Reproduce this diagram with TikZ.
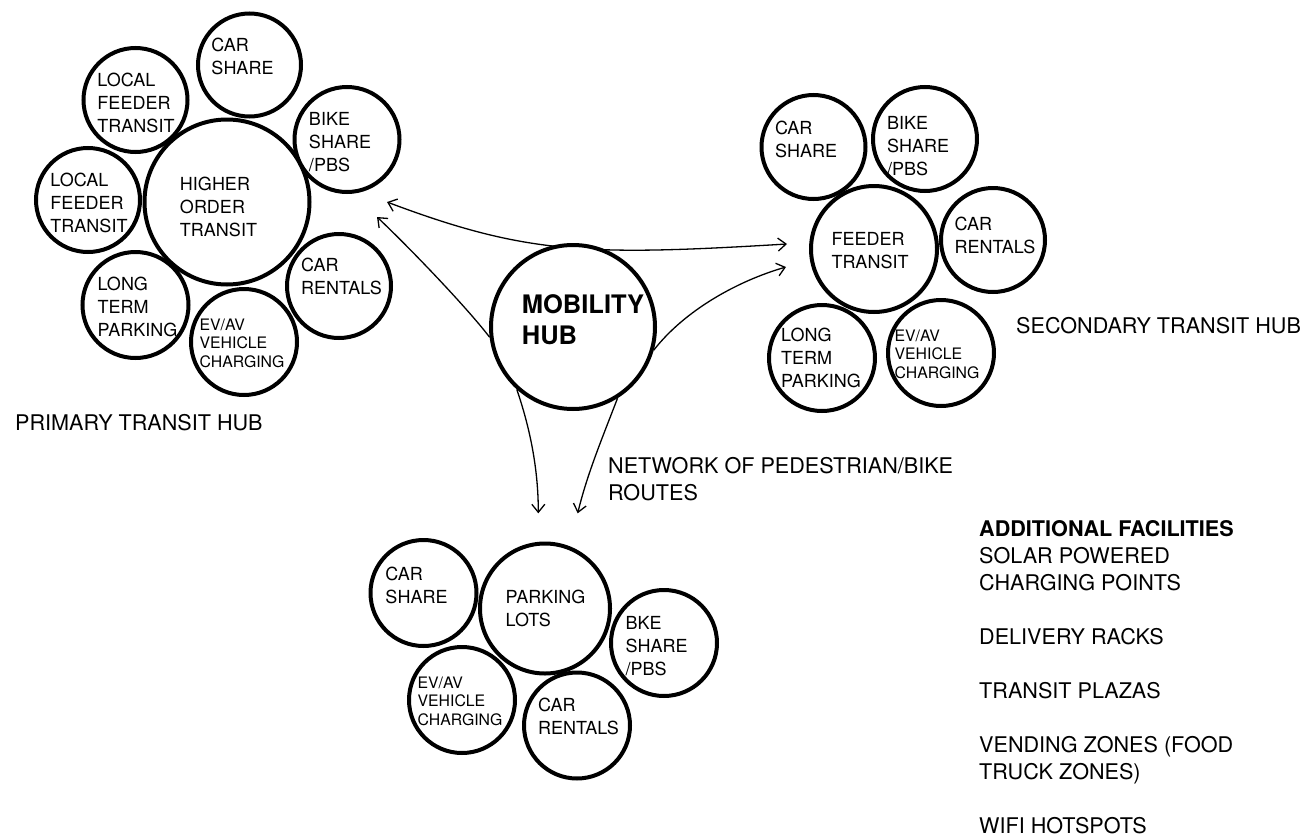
\documentclass[tikz,border=0pt]{standalone}
\usepackage{fontspec}
\setmainfont{TeX Gyre Heros}
\usetikzlibrary{arrows.meta}
\newcommand{\ringfont}{\fontsize{18}{23}\selectfont}
\newcommand{\evfont}{\fontsize{15.8}{18.5}\selectfont}
\newcommand{\hubfont}{\fontsize{25.5}{31}\selectfont\bfseries}
\newcommand{\lblfont}{\fontsize{21.6}{27}\selectfont}
\begin{document}
\begin{tikzpicture}[x=1pt, y=-1pt,
  ring/.style={circle, draw, line width=4pt, fill=white, inner sep=0pt},
  ringtxt/.style={align=left, inner sep=0pt},
  lbl/.style={align=left, inner sep=0pt, font=\lblfont},
  conn/.style={line width=1.3pt},
  >={Straight Barb[length=8pt, width=13pt]}]
\useasboundingbox (0,0) rectangle (1310,838);
\coordinate (pA) at (387,202);
\coordinate (sA) at (787,244);
\draw[conn, <->] (pA) .. controls (526.5,254.5) and (587.4,256) .. (sA);
% primary transit hub
\foreach \n/\x/\y/\sz/\dx/\dy/\fnt/\txt in {
  ho/227/202/165/-8.5/5/\ringfont/{HIGHER\\ORDER\\TRANSIT},
  pcar/249.5/65/103/-7/-8.5/\ringfont/{CAR\\SHARE},
  plf1/135.5/100/104/0.5/3/\ringfont/{LOCAL\\FEEDER\\TRANSIT},
  plf2/88/200/104/1/3/\ringfont/{LOCAL\\FEEDER\\TRANSIT},
  pbike/347/139.5/105/-7/3/\ringfont/{BIKE\\SHARE\\/PBS},
  prent/339/286/104/2.5/-9.5/\ringfont/{CAR\\RENTALS},
  plong/135.5/305/106/2/2/\ringfont/{LONG\\TERM\\PARKING},
  pev/244/342/106/-2/1/\evfont/{EV/AV\\VEHICLE\\CHARGING}}
{\node[ring, minimum size=\sz] (\n) at (\x,\y) {};
 \node[ringtxt, font=\fnt] (\n-t) at (\x+\dx,\y+\dy) {\txt};}
% secondary transit hub
\foreach \n/\x/\y/\sz/\dx/\dy/\fnt/\txt in {
  ft/874/249/126/-4/2/\ringfont/{FEEDER\\TRANSIT},
  scar/813.5/147/104/-7.5/-8/\ringfont/{CAR\\SHARE},
  sbike/925/139/104/-7/7/\ringfont/{BIKE\\SHARE\\/PBS},
  srent/993/240/104/2/-5/\ringfont/{CAR\\RENTALS},
  slong/822/358/106/-1/0/\ringfont/{LONG\\TERM\\PARKING},
  sev/941/353/106/-4/1/\evfont/{EV/AV\\VEHICLE\\CHARGING}}
{\node[ring, minimum size=\sz] (\n) at (\x,\y) {};
 \node[ringtxt, font=\fnt] (\n-t) at (\x+\dx,\y+\dy) {\txt};}
% parking lots
\foreach \n/\x/\y/\sz/\dx/\dy/\fnt/\txt in {
  pl/545/608.5/130/0.5/0/\ringfont/{PARKING\\LOTS},
  bcar/423.5/593/106/-7/-8/\ringfont/{CAR\\SHARE},
  bbike/664/643/106/-7.5/3/\ringfont/{BKE\\SHARE\\/PBS},
  bev/462/700/106/-2/1/\evfont/{EV/AV\\VEHICLE\\CHARGING},
  brent/577/725.5/106/1.5/-9/\ringfont/{CAR\\RENTALS}}
{\node[ring, minimum size=\sz] (\n) at (\x,\y) {};
 \node[ringtxt, font=\fnt] (\n-t) at (\x+\dx,\y+\dy) {\txt};}
\node[ring, minimum size=164] (mob) at (573,327) {};
\node[ringtxt, font=\hubfont] (mob-t) at (583,319.5) {MOBILITY\\HUB};
\coordinate (pB) at (377,217);
\coordinate (sB) at (786,267);
\coordinate (lC) at (538.3,513.3);
\coordinate (lD) at (577.7,513.3);
\draw[conn, ->] (mob.187) .. controls (465.3,305.5) and (406.1,244.4) .. (pB);
\draw[conn, ->] (mob.344) .. controls (685,310) and (737.9,280.9) .. (sB);
\draw[conn, ->] (mob.228) .. controls (529.9,427.8) and (538.3,468.3) .. (lC);
\draw[conn, ->] (mob.302) .. controls (602.9,436.4) and (587,474.4) .. (lD);
\node[lbl, anchor=base west] (primlbl) at (15,430) {PRIMARY TRANSIT HUB};
\node[lbl, anchor=base west] (seclbl) at (1016,333) {SECONDARY TRANSIT HUB};
\node[lbl, anchor=north west] (netlbl) at (608,457) {NETWORK OF PEDESTRIAN/BIKE\\ROUTES};
\node[lbl, anchor=north west] (addlbl) at (979,520) {\textbf{ADDITIONAL FACILITIES}\\SOLAR POWERED\\CHARGING POINTS\\[27pt]DELIVERY RACKS\\[27pt]TRANSIT PLAZAS\\[27pt]VENDING ZONES (FOOD\\TRUCK ZONES)\\[27pt]WIFI HOTSPOTS};
\end{tikzpicture}
\end{document}
